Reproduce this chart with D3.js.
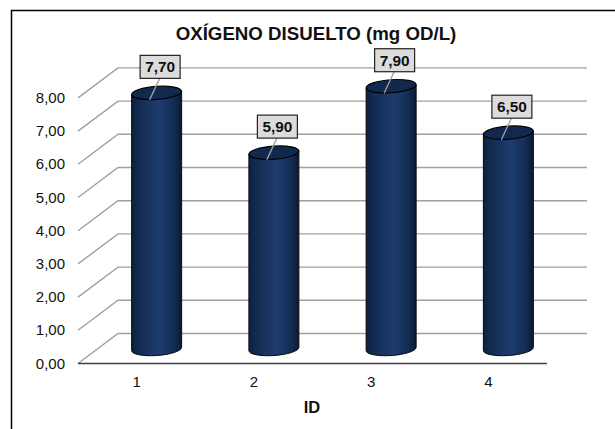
<!DOCTYPE html>
<html><head><meta charset="utf-8">
<script src="https://cdn.jsdelivr.net/npm/d3@7/dist/d3.min.js"></script>
<style>html,body{margin:0;padding:0;background:#fff}svg{display:block}text{font-family:"Liberation Sans",Arial,sans-serif;fill:#111}</style>
</head><body><svg id="c" width="615" height="429"></svg>
<script>
const categories = ["1","2","3","4"];
const values = [7.7,5.9,7.9,6.5];
const yTicks = [0,1,2,3,4,5,6,7,8];
const fmt = v => v.toFixed(2).replace(".",",");
const svg = d3.select("#c");
const defs = svg.append("defs");
const g = defs.append("linearGradient").attr("id","cyl");
[[0,"#0c1f3e"],[0.12,"#12294f"],[0.55,"#1d3d6e"],[0.85,"#132c54"],[1,"#0a1a33"]].forEach(s=>g.append("stop").attr("offset",s[0]).attr("stop-color",s[1]));

svg.append("rect").attr("x",11.5).attr("y",10.5).attr("width",620).attr("height",430).attr("fill","#fff").attr("stroke","#000").attr("stroke-width",1.5);

const front = d3.scaleLinear().domain([0,8]).range([363.5,97.9]);
const depthX = 40, depthY = 30;
const x = d3.scaleBand().domain(categories).range([78,547]);
const xr = 78+depthX, xEnd = 587;

const grid = svg.append("g");
yTicks.forEach(t=>{
  const y=front(t);
  grid.append("path").attr("fill","none").attr("stroke","#a0a0a0").attr("stroke-width",1.4)
    .attr("d",`M78,${y}L${xr},${y-depthY}L${xEnd},${y-depthY}`);
});
svg.append("line").attr("x1",78).attr("x2",547).attr("y1",363.5).attr("y2",363.5).attr("stroke","#404040").attr("stroke-width",1.5);

yTicks.forEach(t=>svg.append("text").attr("x",65).attr("y",front(t)+5).attr("text-anchor","end").attr("font-size",15).text(fmt(t)));
categories.forEach(c=>svg.append("text").attr("x",x(c)+x.bandwidth()/2).attr("y",387).attr("text-anchor","middle").attr("font-size",15).text(c));
svg.append("text").attr("x",312).attr("y",412.5).attr("text-anchor","middle").attr("font-size",16.5).attr("font-weight","bold").text("ID");
svg.append("text").attr("x",316).attr("y",39.5).attr("text-anchor","middle").attr("font-size",18.7).attr("font-weight","bold").text("OXÍGENO DISUELTO (mg OD/L)");

const rx=25, ry=6.5, off=20, baseShift=-14.5, tilt=1.6;
categories.forEach((c,i)=>{
  const cx=x(c)+x.bandwidth()/2+off;
  const yb=front(0)+baseShift, yt=front(values[i])-15;
  svg.append("path").attr("fill","url(#cyl)").attr("stroke","#0a0a0a").attr("stroke-width",1)
    .attr("d",`M${cx-rx},${yt+tilt}L${cx-rx},${yb+tilt}A${rx},${ry} -4 0 0 ${cx+rx},${yb-tilt}L${cx+rx},${yt-tilt}Z`);
  svg.append("ellipse").attr("cx",cx).attr("cy",yt).attr("rx",rx).attr("ry",ry).attr("transform",`rotate(-4 ${cx} ${yt})`)
    .attr("fill","#12294f").attr("stroke","#000").attr("stroke-width",1.2);
  const bx=cx+3.5, bw=40, bh=23, by=yt-37.5;
  svg.append("line").attr("x1",bx-0.5).attr("y1",by+bh).attr("x2",cx-7).attr("y2",yt+7).attr("stroke","#a0a0a0").attr("stroke-width",1.3);
  svg.append("rect").attr("x",bx-bw/2).attr("y",by).attr("width",bw).attr("height",bh).attr("fill","#dcdcdc").attr("stroke","#222").attr("stroke-width",1.2);
  svg.append("text").attr("x",bx).attr("y",by+17).attr("text-anchor","middle").attr("font-size",15.4).attr("font-weight","bold").text(fmt(values[i]));
});
</script></body></html>
